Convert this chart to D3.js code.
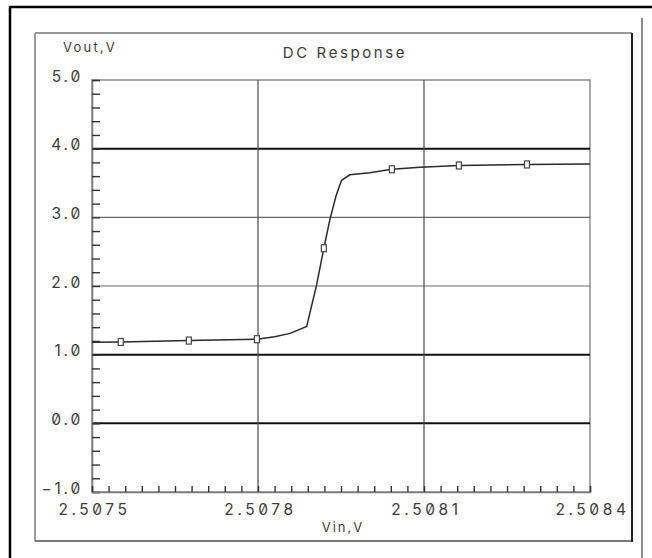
<!DOCTYPE html>
<html>
<head>
<meta charset="utf-8">
<script src="https://cdn.jsdelivr.net/npm/d3@7"></script>
<style>
  html, body { margin: 0; padding: 0; background: #fff; }
  svg { display: block; }
  .lbl { font-family: Inter, "Liberation Sans", Arial, sans-serif; font-feature-settings: "zero" 1; fill: #3c3c3c; }
</style>
</head>
<body>
<svg id="chart" width="652" height="558"></svg>
<script>
// ---- data ----
const title = "DC Response";
const xLabel = "Vin,V";
const yLabel = "Vout,V";
const vin  = [2.50750, 2.507552, 2.507675, 2.507798, 2.50783, 2.507858, 2.507888, 2.507906, 2.507919, 2.507930, 2.507941, 2.507951, 2.507966, 2.508002, 2.508042, 2.508093, 2.508163, 2.508286, 2.508400];
const vout = [1.18,    1.185,    1.205,    1.225,    1.26,    1.31,     1.41,     2.02,     2.55,     2.97,     3.31,     3.54,     3.62,     3.65,     3.70,     3.73,     3.755,    3.77,     3.775];
const markerVin  = [2.507552, 2.507675, 2.507798, 2.507919, 2.508042, 2.508163, 2.508286];
const markerVout = [1.185,    1.205,    1.225,    2.55,     3.70,     3.755,    3.77];
const xTicks = [2.5075, 2.5078, 2.5081, 2.5084];
const yTicks = [-1, 0, 1, 2, 3, 4, 5];
const xGrid = [2.5078, 2.5081];
const yGrid = [0, 1, 2, 3, 4];

// ---- layout ----
const L = 92, R = 590, T = 80, B = 492;
const svg = d3.select("#chart");
const x = d3.scaleLinear().domain([2.5075, 2.5084]).range([L, R]);
const y = d3.scaleLinear().domain([-1, 5]).range([B, T]);

// outer frames
svg.append("line").attr("x1", 10).attr("y1", 7).attr("x2", 652).attr("y2", 7).attr("stroke", "#000").attr("stroke-width", 2.5);
svg.append("line").attr("x1", 10).attr("y1", 6).attr("x2", 10).attr("y2", 558).attr("stroke", "#000").attr("stroke-width", 2.5);
svg.append("line").attr("x1", 642).attr("y1", 18).attr("x2", 642).attr("y2", 558).attr("stroke", "#8a8a8a").attr("stroke-width", 2);
// inner bevel frame
svg.append("line").attr("x1", 35).attr("y1", 33).attr("x2", 632).attr("y2", 33).attr("stroke", "#9a9a9a").attr("stroke-width", 2);
svg.append("line").attr("x1", 35).attr("y1", 33).attr("x2", 35).attr("y2", 541).attr("stroke", "#9a9a9a").attr("stroke-width", 2);
svg.append("line").attr("x1", 35).attr("y1", 541).attr("x2", 632).attr("y2", 541).attr("stroke", "#7a7a7a").attr("stroke-width", 2);
svg.append("line").attr("x1", 632).attr("y1", 33).attr("x2", 632).attr("y2", 542).attr("stroke", "#222").attr("stroke-width", 2);

// plot frame
svg.append("rect").attr("x", L).attr("y", T).attr("width", R - L).attr("height", B - T)
  .attr("fill", "none").attr("stroke", "#8c8c8c").attr("stroke-width", 1.5);

// grid
const heavy = v => v === 0 || v === 1 || v === 4;
svg.append("g").selectAll("line").data(yGrid).join("line")
  .attr("x1", L).attr("x2", R).attr("y1", d => y(d)).attr("y2", d => y(d))
  .attr("stroke", d => heavy(d) ? "#111" : "#6a6a6a")
  .attr("stroke-width", d => heavy(d) ? 2 : 1.2);
svg.append("g").selectAll("line").data(xGrid).join("line")
  .attr("y1", T).attr("y2", B).attr("x1", d => x(d)).attr("x2", d => x(d))
  .attr("stroke", "#4a4a4a").attr("stroke-width", 1.2);

// minor ticks (inward)
const yMinor = d3.range(-1, 5.0001, 0.2);
const xMinor = d3.range(0, 31).map(i => 2.5075 + i * 0.00003);
const gyMinor = svg.append("g").attr("transform", `translate(${L},0)`)
  .call(d3.axisLeft(y).tickValues(yMinor).tickSize(-8).tickFormat(""));
gyMinor.select(".domain").attr("stroke", "#7a7a7a").attr("stroke-width", 1.5);
gyMinor.selectAll(".tick line").attr("stroke", "#333").attr("stroke-width", 1.4);
const gxMinor = svg.append("g").attr("transform", `translate(0,${B})`)
  .call(d3.axisBottom(x).tickValues(xMinor).tickSize(-6).tickFormat(""));
gxMinor.select(".domain").attr("stroke", "#7a7a7a").attr("stroke-width", 1.5);
gxMinor.selectAll(".tick line").attr("stroke", "#333").attr("stroke-width", 1.4);

// major tick labels
const gy = svg.append("g").attr("transform", `translate(${L},0)`)
  .call(d3.axisLeft(y).tickValues(yTicks).tickSize(0).tickPadding(9).tickFormat(d3.format(".1f")));
gy.select(".domain").remove();
gy.selectAll("text").attr("class", "lbl").attr("dy", 1)
  .style("font-size", "15.5px").style("letter-spacing", "2.8px").attr("fill", "#3c3c3c");
const gx = svg.append("g").attr("transform", `translate(0,${B})`)
  .call(d3.axisBottom(x).tickValues(xTicks).tickSize(0).tickPadding(0).tickFormat(d3.format(".4f")));
gx.select(".domain").remove();
gx.selectAll("text").attr("class", "lbl").attr("y", 23).attr("dy", 0).attr("dx", 2)
  .style("font-size", "15.5px").style("letter-spacing", "3.6px").attr("fill", "#3c3c3c");

// curve
const pts = vin.map((v, i) => [v, vout[i]]);
svg.append("path").datum(pts)
  .attr("fill", "none").attr("stroke", "#2a2a2a").attr("stroke-width", 1.5)
  .attr("d", d3.line().x(d => x(d[0])).y(d => y(d[1])));

// markers
svg.append("g").selectAll("rect").data(markerVin.map((v, i) => [v, markerVout[i]])).join("rect")
  .attr("x", d => x(d[0]) - 2.5).attr("y", d => y(d[1]) - 3.5)
  .attr("width", 5).attr("height", 7)
  .attr("fill", "#fff").attr("stroke", "#444").attr("stroke-width", 1.2);

// texts
svg.append("text").attr("class", "lbl").attr("x", 345).attr("y", 58).attr("text-anchor", "middle")
  .style("font-size", "15px").style("letter-spacing", "2.6px").text(title);
svg.append("text").attr("class", "lbl").attr("x", 63).attr("y", 52)
  .style("font-size", "13px").style("letter-spacing", "2.2px").text(yLabel);
svg.append("text").attr("class", "lbl").attr("x", 343).attr("y", 532).attr("text-anchor", "middle")
  .style("font-size", "13px").style("letter-spacing", "2px").text(xLabel);
</script>
</body>
</html>
